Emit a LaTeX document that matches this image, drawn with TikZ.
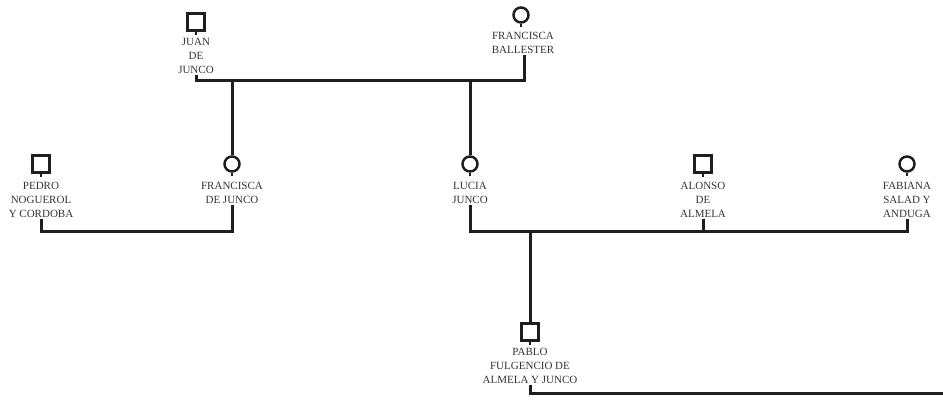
\documentclass[tikz,border=0pt]{standalone}
\usepackage{fontspec}
\setmainfont{Liberation Serif}
\usetikzlibrary{calc}
\definecolor{linec}{HTML}{1E1E1E}
\definecolor{textc}{HTML}{333333}
\begin{document}
\begin{tikzpicture}[x=1pt,y=-1pt,
  male/.style={draw=linec,line width=2.8pt,minimum size=17.5pt,inner sep=0pt,rectangle},
  female/.style={draw=linec,line width=2.5pt,minimum size=15pt,inner sep=0pt,circle},
  lbl/.style={anchor=north,align=center,inner sep=1.5pt,text=textc,font=\fontsize{11}{13.6}\selectfont},
  link/.style={draw=linec,line width=3pt},
  tick/.style={draw=linec,line width=2.4pt}]
\useasboundingbox (0,0) rectangle (943,401);
% generation 1
\node[male] (juan) at (196,22) {};
\node[lbl] (juant) at (196,37) {JUAN\\DE\\JUNCO};
\node[female] (fb) at (521,15) {};
\node[lbl] (fbt) at (523,31) {FRANCISCA\\BALLESTER};
% generation 2
\node[male] (pedro) at (41,164) {};
\node[lbl] (pedrot) at (41,181) {PEDRO\\NOGUEROL\\Y CORDOBA};
\node[female] (fj) at (232,164) {};
\node[lbl] (fjt) at (232,181) {FRANCISCA\\DE JUNCO};
\node[female] (lucia) at (470,164) {};
\node[lbl] (luciat) at (470,181) {LUCIA\\JUNCO};
\node[male] (alonso) at (703,164) {};
\node[lbl] (alonsot) at (703,181) {ALONSO\\DE\\ALMELA};
\node[female] (fab) at (907,164) {};
\node[lbl] (fabt) at (907,181) {FABIANA\\SALAD Y\\ANDUGA};
% generation 3
\node[male] (pablo) at (530,332) {};
\node[lbl] (pablot) at (530,347) {PABLO\\FULGENCIO DE\\ALMELA Y JUNCO};
% symbol ticks
\foreach \s in {juan,fb,pedro,fj,lucia,alonso,fab,pablo}
  \draw[tick] (\s.south) -- ++(0,3);
% coordinates
\coordinate (m1) at (196,81);
\coordinate (m1r) at (524,81);
\coordinate (m2l) at (41,231);
\coordinate (m2r) at (232,231);
\coordinate (m3l) at (470,231);
\coordinate (m3r) at (907,231);
\coordinate (m3c) at (530,231);
\coordinate (end) at (943,393);
% unions
\draw[link] (juant.south) |- (m1) -- (m1r) -- (fbt.south -| m1r);
\draw[link] (pedrot.south) -- (m2l) -- (m2r) -- (fjt.south);
\draw[link] (luciat.south) -- (m3l) -- (m3r) -- (fabt.south);
\draw[link] (alonsot.south) -- (alonsot.south |- m3l);
% descent
\draw[link] (232,81) -- (fj.north);
\draw[link] (470,81) -- (lucia.north);
\draw[link] (m3c) -- (pablo.north);
\draw[link] (pablot.south) |- (end);
\end{tikzpicture}
\end{document}
